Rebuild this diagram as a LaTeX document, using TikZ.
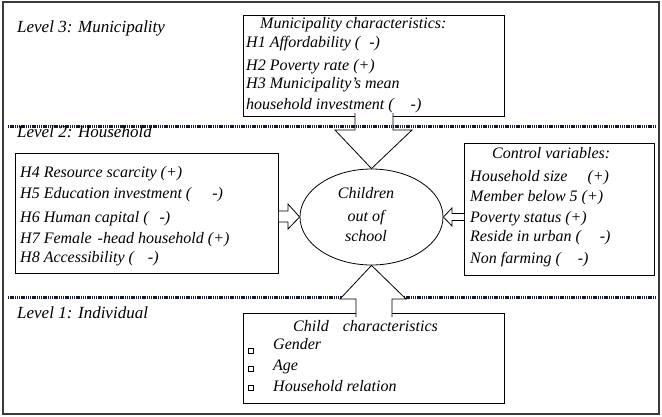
\documentclass[tikz,border=0pt]{standalone}
\usepackage{fontspec}
\setmainfont{Liberation Serif}
\usetikzlibrary{calc,shapes.geometric}
\definecolor{navyline}{HTML}{161C30}
\definecolor{framecol}{HTML}{3A3A3A}
\tikzset{
  boxx/.style={draw, line width=0.8pt, rectangle, inner sep=0pt, anchor=north west},
  txt/.style={anchor=base west, inner sep=0pt, font=\fontsize{16}{18}\selectfont\itshape},
  ctxt/.style={anchor=base, inner sep=0pt, font=\fontsize{16}{18}\selectfont\itshape},
  lvl/.style={anchor=base west, inner sep=0pt, font=\fontsize{17}{19}\selectfont\itshape},
  dotline/.style={line width=3pt, dash pattern=on 1.4pt off 0.8pt, color=navyline},
  barrow/.style={draw, fill=white, line width=0.8pt, line join=miter},
  bul/.style={draw, line width=0.6pt, rectangle, minimum size=4.5pt, inner sep=0pt, fill=white}
}
\begin{document}
\begin{tikzpicture}[x=1pt,y=-1pt]
\useasboundingbox (0,0) rectangle (662,416);
\draw[line width=1.5pt, color=framecol] (3,2) rectangle (659,414);

% boxes
\node[boxx, minimum width=261pt, minimum height=101pt] (mun) at (243,15) {};
\node[boxx, minimum width=263pt, minimum height=120pt] (hh) at (15,153) {};
\node[boxx, minimum width=190pt, minimum height=132pt] (ctrl) at (464,143) {};
\node[boxx, minimum width=261pt, minimum height=90pt] (child) at (243,313) {};
\node[draw, ellipse, line width=0.8pt, minimum width=143pt, minimum height=96pt, inner sep=0pt] (ell) at (371.5,217) {};

% bottom separator (covered by the up arrow)
\coordinate (s2a) at (8,297.5);
\coordinate (s2b) at (656,297.5);
\draw[dotline] (s2a) -- (s2b);

% block arrows
\draw[barrow] (355,113) -- (355,130) -- (335,130) -- (ell.north) -- (412,130) -- (393,130) -- (393,113);
\draw[barrow] (356,317) -- (356,299) -- (340,299) -- (ell.south) -- (406,299) -- (392,299) -- (392,317);
\draw[barrow] (hh.east |- 0,211) -- (288,211) -- (288,204) -- (ell.west) -- (288,229) -- (288,222) -- (hh.east |- 0,222);
\draw[barrow] (ctrl.west |- 0,213.5) -- (452,213.5) -- (452,208) -- (ell.east) -- (452,226) -- (452,220.5) -- (ctrl.west |- 0,220.5);

% top separator (drawn over the down arrow)
\coordinate (s1a) at (8,126);
\coordinate (s1b) at (656,126);
\draw[dotline] (s1a) -- (s1b);

% level labels
\node[lvl] (l3) at (17,32) {Level 3: Municipality};
\node[lvl] (l2) at (17,137) {Level 2: Household};
\node[lvl] (l1) at (17,318) {Level 1: Individual};

% municipality
\node[txt] (mh) at (260,28) {Municipality characteristics:};
\node[txt] (h1) at (246,47) {H1 Affordability (\hspace{9pt}-)};
\node[txt] (h2) at (246,70) {H2 Poverty rate (+)};
\node[txt] (h3) at (246,88) {H3 Municipality’s mean};
\node[txt] (h3b) at (246,109) {household investment (\hspace{17pt}-)};

% household
\node[txt] (h4) at (20,177) {H4 Resource scarcity (+)};
\node[txt] (h5) at (20,198) {H5 Education investment (\hspace{21pt}-)};
\node[txt] (h6) at (20,222) {H6 Human capital (\hspace{11pt}-)};
\node[txt] (h7) at (20,243) {H7 Female\hspace{6pt}-head household (+)};
\node[txt] (h8) at (20,262) {H8 Accessibility (\hspace{14pt}-)};

% control
\node[txt] (ch) at (492,158) {Control variables:};
\node[txt] (c1) at (470,181) {Household size\hspace{20pt}(+)};
\node[txt] (c2) at (470,201) {Member below 5 (+)};
\node[txt] (c3) at (470,222) {Poverty status (+)};
\node[txt] (c4) at (470,241) {Reside in urban (\hspace{19pt}-)};
\node[txt] (c5) at (470,263) {Non farming (\hspace{17pt}-)};

% ellipse
\node[ctxt] (e1) at (366,198) {Children};
\node[ctxt] (e2) at (366,221) {out of};
\node[ctxt] (e3) at (366,241) {school};

% child
\node[txt] (kh) at (293,331) {Child\hspace{14pt}characteristics};
\node[bul] (b1) at (251,351) {};
\node[bul] (b2) at (251,369) {};
\node[bul] (b3) at (251,388) {};
\node[txt] (k1) at (273,349) {Gender};
\node[txt] (k2) at (273,370) {Age};
\node[txt] (k3) at (273,391) {Household relation};
\end{tikzpicture}
\end{document}
